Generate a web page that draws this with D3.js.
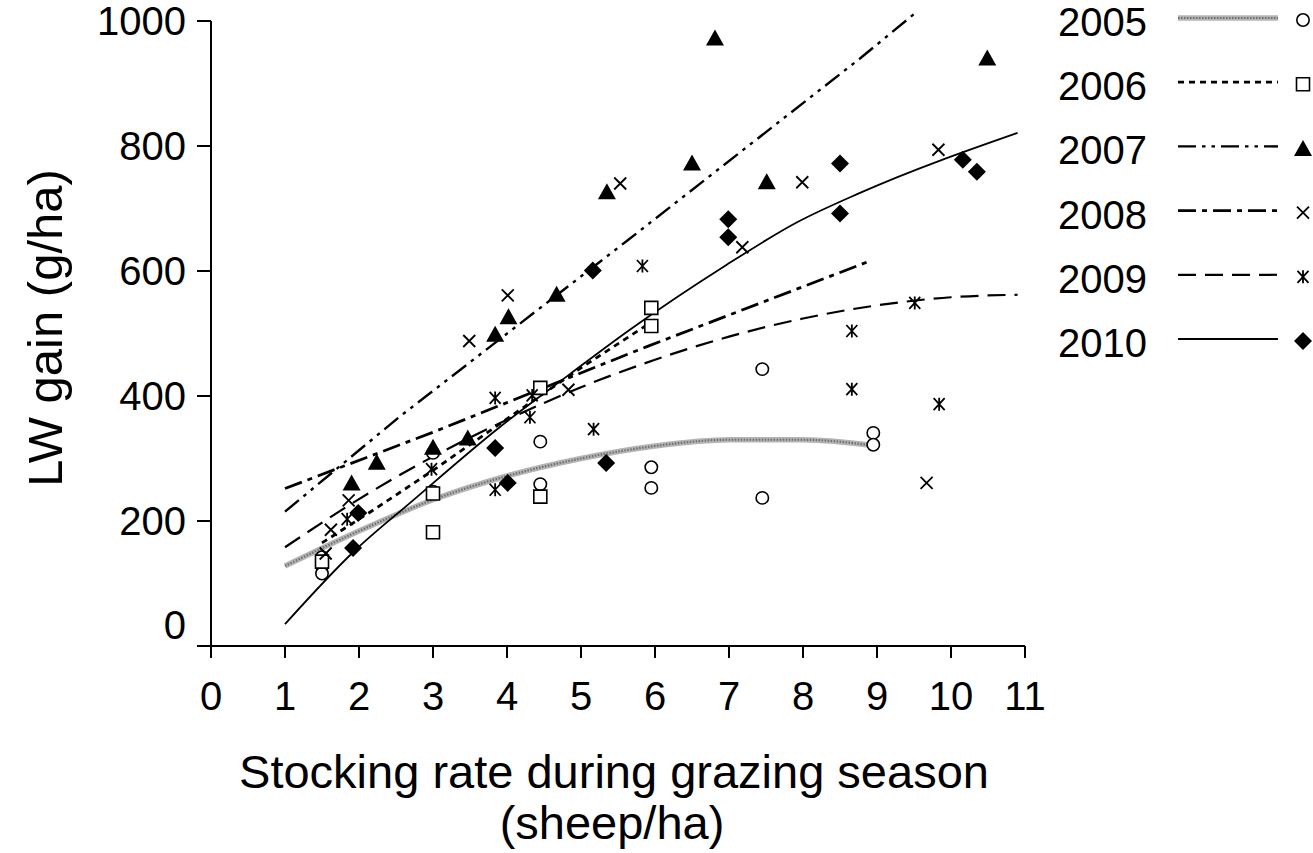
<!DOCTYPE html>
<html>
<head>
<meta charset="utf-8">
<script src="https://cdn.jsdelivr.net/npm/d3@7"></script>
<style>
  body { margin: 0; background: #fff; }
  svg { display: block; font-family: "Liberation Sans", Arial, sans-serif; }
</style>
</head>
<body>
<svg id="chart" width="1313" height="853"></svg>
<script>
const years = ["2005", "2006", "2007", "2008", "2009", "2010"];
const xTicks = [0, 1, 2, 3, 4, 5, 6, 7, 8, 9, 10, 11];
const yTicks = [0, 200, 400, 600, 800, 1000];

// observed points [stocking rate, LW gain]
const pts2005 = [[1.5, 142], [1.5, 128], [1.5, 116], [3, 309], [3, 247], [4.45, 327], [4.45, 259],
  [5.95, 286], [5.95, 253], [7.45, 443], [7.45, 237], [8.95, 341], [8.95, 322]];
const pts2006 = [[1.5, 135], [3, 244], [3, 182], [4.45, 413], [4.45, 239], [5.95, 541], [5.95, 512]];
const pts2007 = [[1.9, 261], [2.24, 294], [3.0, 318], [3.47, 333], [3.84, 499], [4.02, 527], [4.67, 563],
  [5.35, 727], [6.5, 773], [6.81, 973], [7.51, 743], [10.49, 941]];
const pts2008 = [[1.55, 148], [1.62, 186], [1.86, 233], [3.49, 488], [4.01, 561], [4.83, 410], [5.53, 740],
  [7.18, 638], [7.99, 742], [9.67, 261], [9.83, 794]];
const pts2009 = [[1.84, 203], [2.98, 283], [3.84, 397], [3.84, 250], [4.31, 366], [4.34, 401], [5.17, 347],
  [5.83, 608], [8.66, 504], [8.66, 411], [9.51, 549], [9.84, 387]];
const pts2010 = [[1.92, 157], [1.99, 213], [3.84, 317], [4.01, 261], [5.16, 601], [5.34, 293], [6.99, 683],
  [6.99, 654], [8.5, 692], [8.5, 772], [10.16, 778], [10.35, 759]];

// fitted lines
const line2005 = [[1, 128], [2, 184], [3, 234], [4, 272], [5, 300], [6, 320], [7, 330], [8, 330], [9, 320]];
const line2006 = [[1.5, 165], [2.2, 218], [3, 281], [4.08, 370], [5, 445], [6, 522]];
const line2007 = [[1, 215], [2.55, 367], [5.64, 650], [8.77, 940], [9.52, 1013]];
const line2008 = [[1, 252], [3, 342], [5.19, 446], [5.89, 479], [8.86, 614]];
const line2009 = [[1, 158], [2, 235], [3, 303], [4, 362], [5, 414], [6, 458], [7, 495], [8, 524], [9, 545], [10, 558], [10.9, 562]];
const line2010 = [[1, 35], [1.92, 150], [2.73, 233], [3.9, 350], [4.85, 435], [5.66, 506], [6.97, 610], [7.92, 678], [8.77, 725], [10.9, 821]];

const series = [
  { year: "2005", pts: pts2005, line: line2005, marker: "circle", smooth: true },
  { year: "2006", pts: pts2006, line: line2006, marker: "square", smooth: false },
  { year: "2007", pts: pts2007, line: line2007, marker: "triangle", smooth: false },
  { year: "2008", pts: pts2008, line: line2008, marker: "times", smooth: false },
  { year: "2009", pts: pts2009, line: line2009, marker: "star", smooth: true },
  { year: "2010", pts: pts2010, line: line2010, marker: "diamond", smooth: true }
];

const svg = d3.select("#chart");
const x = d3.scaleLinear().domain([0, 11]).range([211, 1025]);
const y = d3.scaleLinear().domain([0, 1000]).range([646, 21]);

// line styles per year
function styleLine(sel, year) {
  if (year === "2005") return; // drawn separately
  sel.attr("fill", "none").attr("stroke", "#000");
  if (year === "2006") sel.attr("stroke-width", 2.8).attr("stroke-dasharray", "6,5");
  if (year === "2007") sel.attr("stroke-width", 2.4).attr("stroke-dasharray", "18,6,3.5,6,3.5,6");
  if (year === "2008") sel.attr("stroke-width", 2.8).attr("stroke-dasharray", "18,6,5,6");
  if (year === "2009") sel.attr("stroke-width", 2.2).attr("stroke-dasharray", "18,9");
  if (year === "2010") sel.attr("stroke-width", 1.8);
}

function draw2005(g, d) {
  g.append("path").attr("d", d).attr("fill", "none")
    .attr("stroke", "#b4b4b4").attr("stroke-width", 5.5);
  g.append("path").attr("d", d).attr("fill", "none")
    .attr("stroke", "#6e6e6e").attr("stroke-width", 2.2).attr("stroke-dasharray", "1.5,1.5");
}

function markerPath(type) {
  if (type === "circle") return d3.symbol(d3.symbolCircle, 120)();
  if (type === "square") return "M-6.5,-6.5H6.5V6.5H-6.5Z";
  if (type === "triangle") return "M0,-8.5L9,7.5H-9Z";
  if (type === "diamond") return "M0,-9L9,0L0,9L-9,0Z";
  if (type === "times") return "M-6,-6L6,6M6,-6L-6,6";
  if (type === "star") return "M-5.5,-6L5.5,6M5.5,-6L-5.5,6M0,-6.5V6.5";
}

function styleMarker(sel, type) {
  if (type === "circle" || type === "square") {
    sel.attr("fill", "#fff").attr("stroke", "#000").attr("stroke-width", 1.6);
  } else if (type === "triangle" || type === "diamond") {
    sel.attr("fill", "#000").attr("stroke", "none");
  } else {
    sel.attr("fill", "none").attr("stroke", "#000").attr("stroke-width", 1.8);
  }
}

// axes
const axisG = svg.append("g").attr("stroke", "#000").attr("stroke-width", 2);
axisG.append("line").attr("x1", 197).attr("x2", x(11)).attr("y1", y(0)).attr("y2", y(0));
axisG.append("line").attr("x1", x(0)).attr("x2", x(0)).attr("y1", y(1000)).attr("y2", y(0) + 10);
xTicks.forEach(t => {
  axisG.append("line").attr("x1", x(t)).attr("x2", x(t)).attr("y1", y(0)).attr("y2", y(0) + 12);
});
yTicks.forEach(t => {
  if (t === 0) return;
  axisG.append("line").attr("x1", x(0) - 14).attr("x2", x(0)).attr("y1", y(t)).attr("y2", y(t));
});

svg.selectAll(".xlab").data(xTicks).enter().append("text")
  .attr("x", d => x(d)).attr("y", 710)
  .attr("text-anchor", "middle").attr("font-size", 40).text(d => d);

svg.selectAll(".ylab").data(yTicks).enter().append("text")
  .attr("x", 186).attr("y", d => (d === 0 ? y(d) - 21 : y(d)) + 14)
  .attr("text-anchor", "end").attr("font-size", 40).text(d => d);

svg.append("text")
  .attr("transform", "translate(62,328) rotate(-90)")
  .attr("text-anchor", "middle").attr("font-size", 49).text("LW gain (g/ha)");

svg.append("text").attr("x", 614).attr("y", 788)
  .attr("text-anchor", "middle").attr("font-size", 47).text("Stocking rate during grazing season");
svg.append("text").attr("x", 612).attr("y", 839)
  .attr("text-anchor", "middle").attr("font-size", 47).text("(sheep/ha)");

// fitted lines
series.forEach(s => {
  const gen = d3.line().x(d => x(d[0])).y(d => y(d[1]))
    .curve(s.smooth ? d3.curveMonotoneX : d3.curveLinear);
  if (s.year === "2005") {
    draw2005(svg.append("g"), gen(s.line));
  } else {
    svg.append("path").attr("d", gen(s.line)).call(styleLine, s.year);
  }
});

// points
series.forEach(s => {
  svg.append("g").selectAll("path").data(s.pts).enter().append("path")
    .attr("transform", d => `translate(${x(d[0])},${y(d[1])})`)
    .attr("d", markerPath(s.marker))
    .call(styleMarker, s.marker);
});

// legend
const legend = svg.append("g");
series.forEach((s, i) => {
  const cy = 22 + i * 64.2;
  legend.append("text").attr("x", 1058).attr("y", cy + 14)
    .attr("font-size", 40).text(s.year);
  const ld = `M1178,${cy - 4}H1278`;
  if (s.year === "2005") draw2005(legend.append("g"), ld);
  else legend.append("path").attr("d", ld).call(styleLine, s.year);
  legend.append("path").attr("transform", `translate(1303,${cy - 2})`)
    .attr("d", markerPath(s.marker)).call(styleMarker, s.marker);
});
</script>
</body>
</html>
